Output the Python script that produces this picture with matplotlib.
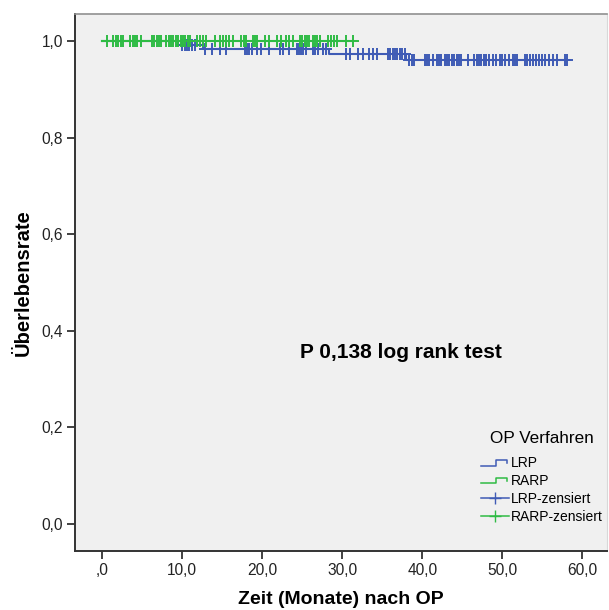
import numpy as np
import matplotlib
matplotlib.use("Agg")
import matplotlib.pyplot as plt
from matplotlib.lines import Line2D
from matplotlib.legend_handler import HandlerBase

plt.rcParams['font.family'] = ['Liberation Sans', 'DejaVu Sans']

# LRP curve: event times and survival after each event
lrp_event_t = [0.0, 9.5, 12.6, 28.4, 38.0]
lrp_surv = [1.0, 0.991, 0.983, 0.973, 0.960]
lrp_end = 58.1
lrp_cens = [10.0, 10.3, 10.6, 10.9, 11.2, 11.6,
            12.8, 13.7, 14.7, 15.5, 17.8, 18.1, 18.4, 18.7, 19.3, 19.9, 20.9,
            22.2, 22.6, 23.4, 24.3, 24.6, 24.9, 25.1, 25.5, 26.3, 26.6, 27.0,
            27.6, 28.0,
            30.5, 31.0, 32.0, 32.6, 33.3, 33.8, 34.3, 35.7, 36.0, 36.3, 36.6,
            36.9, 37.2, 37.5, 37.8,
            38.4, 38.7, 39.0, 40.3, 40.6, 40.9, 41.3, 41.8, 42.1, 42.4, 42.8,
            43.1, 43.4, 43.7, 44.0, 44.3, 44.6, 44.9, 45.7, 46.5, 46.8, 47.1,
            47.4, 47.7, 48.0, 48.4, 48.8, 49.2, 49.7, 50.0, 50.4, 50.9, 51.3,
            51.6, 51.9, 52.8, 53.1, 53.5, 53.8, 54.2, 54.6, 55.0, 55.4, 55.9,
            56.3, 56.8, 57.8, 58.1]

# RARP curve: no events
rarp_event_t = [0.0]
rarp_surv = [1.0]
rarp_end = 31.3
rarp_cens = [0.55, 1.4, 1.7, 2.0, 2.3, 2.6, 3.5, 3.8, 4.1, 4.4, 4.9, 6.2, 6.5,
             6.8, 7.1, 7.4, 8.0, 8.3, 8.6, 8.9, 9.2, 9.5, 9.8, 10.1, 10.4,
             10.7, 11.0, 11.8, 12.2, 12.6, 13.0, 14.1, 14.7, 15.1, 15.5, 15.9,
             16.3, 17.4, 17.7, 18.0, 18.8, 19.1, 19.4, 20.3, 20.9, 21.8, 22.4,
             23.0, 23.4, 23.9, 24.7, 25.0, 25.3, 25.6, 25.9, 26.3, 26.6, 26.9,
             27.2, 28.2, 28.6, 29.0, 29.4, 30.5, 31.3]

x_ticks = [0, 10, 20, 30, 40, 50, 60]
x_ticklabels = [',0', '10,0', '20,0', '30,0', '40,0', '50,0', '60,0']
y_ticks = [0.0, 0.2, 0.4, 0.6, 0.8, 1.0]
y_ticklabels = ['0,0', '0,2', '0,4', '0,6', '0,8', '1,0']

BLUE = '#3f5bb5'
GREEN = '#2fbb45'


def km_at(t, ev_t, surv):
    idx = np.searchsorted(ev_t, t, side='right') - 1
    return np.array(surv)[idx]


class StepHandler(HandlerBase):
    def create_artists(self, legend, orig_handle, xdescent, ydescent,
                       width, height, fontsize, trans):
        xs = np.array([0, 0.55, 0.55, 0.95, 0.95]) * width - xdescent
        ys = np.array([0.15, 0.15, 0.75, 0.75, 0.45]) * height - ydescent
        ln = Line2D(xs, ys, color=orig_handle.get_color(), lw=1.1, transform=trans)
        return [ln]


fig = plt.figure(figsize=(6.09, 6.10), dpi=100)
ax = fig.add_axes([0.1236, 0.0972, 0.8731, 0.8806])
ax.set_facecolor('#f0f0f0')

for ev_t, surv, end, cens, col in [(lrp_event_t, lrp_surv, lrp_end, lrp_cens, BLUE),
                                    (rarp_event_t, rarp_surv, rarp_end, rarp_cens, GREEN)]:
    xs = list(ev_t) + [end]
    ys = list(surv) + [surv[-1]]
    ax.plot(xs, ys, drawstyle='steps-post', color=col, lw=1.5)
    ax.plot(cens, km_at(cens, ev_t, surv), ls='none', marker='+', color=col,
            markersize=8, markeredgewidth=1.4)

ax.set_xlim(-3.37, 63.1)
ax.set_ylim(-0.0553, 1.057)
ax.set_xticks(x_ticks)
ax.set_xticklabels(x_ticklabels)
ax.set_yticks(y_ticks)
ax.set_yticklabels(y_ticklabels)
ax.tick_params(direction='out', length=6, width=1.3, color='#333333',
               labelsize=11.2, labelcolor='#222222', pad=3)

for s in ['left', 'bottom']:
    ax.spines[s].set_color('#333333')
    ax.spines[s].set_linewidth(1.4)
ax.spines['top'].set_color('#909090')
ax.spines['top'].set_linewidth(1.2)
ax.spines['right'].set_color('#d8d8d8')
ax.spines['right'].set_linewidth(0.8)

ax.set_xlabel('Zeit (Monate) nach OP', fontsize=14, fontweight='bold', labelpad=9)
ax.set_ylabel('Überlebensrate', fontsize=14.5, fontweight='bold', labelpad=6)

ax.text(24.7, 0.356, 'P 0,138 log rank test', fontsize=15, fontweight='bold',
        va='center', ha='left')

h_lrp = Line2D([], [], color=BLUE)
h_rarp = Line2D([], [], color=GREEN)
h_lrp_c = Line2D([], [], color=BLUE, lw=1.1, marker='+', markersize=9, markeredgewidth=1.0)
h_rarp_c = Line2D([], [], color=GREEN, lw=1.1, marker='+', markersize=9, markeredgewidth=1.0)
leg = ax.legend([h_lrp, h_rarp, h_lrp_c, h_rarp_c],
                ['LRP', 'RARP', 'LRP-zensiert', 'RARP-zensiert'],
                handler_map={h_lrp: StepHandler(), h_rarp: StepHandler()},
                title='OP Verfahren', title_fontsize=12.3, fontsize=10,
                frameon=False, loc='lower right', bbox_to_anchor=(1.002, 0.04),
                handlelength=2.0, handletextpad=0.15, labelspacing=0.28,
                borderaxespad=0.0, numpoints=1)
leg._legend_box.align = 'center'
leg._legend_box.sep = 7

fig.savefig('out.png', dpi=100)
